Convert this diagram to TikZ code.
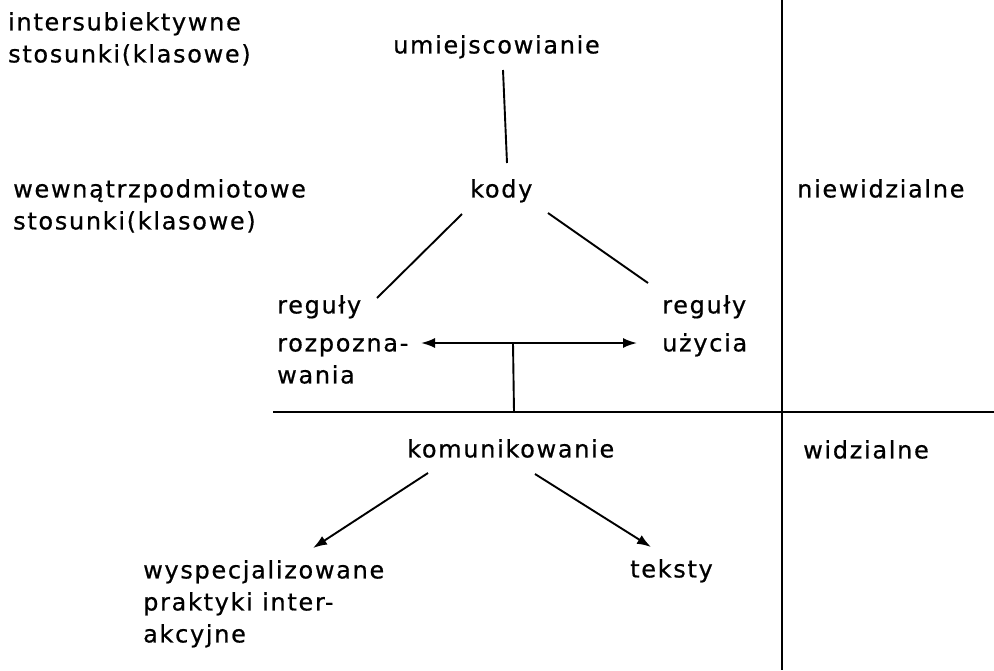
\documentclass[tikz,border=0pt]{standalone}
\usepackage{fontspec}
\setmainfont[LetterSpace=7,FakeBold=0.6]{DejaVu Sans}
\usetikzlibrary{arrows.meta}
\begin{document}
\begin{tikzpicture}[x=1pt,y=-1pt,
  lbl/.style={anchor=north west, inner sep=0pt, align=left,
              font=\fontsize{24}{32}\selectfont},
  rule/.style={line width=2pt},
  conn/.style={line width=1.9pt},
  tip/.tip={Latex[length=14pt,width=10pt]},
  arr/.style={conn, -tip},
  darr/.style={conn, tip-tip}]
\useasboundingbox (0,0) rectangle (994,670);

% labels
\node[lbl] (inter)  at (8,12)    {intersubiektywne\\stosunki(klasowe)};
\node[lbl] (wewn)   at (13,179)  {wewnątrzpodmiotowe\\stosunki(klasowe)};
\node[lbl] (umiej)  at (393,35)  {umiejscowianie};
\node[lbl] (kody)   at (470,179) {kody};
\node[lbl] (niew)   at (797,179) {niewidzialne};
\node[lbl] (regL)   at (277,295) {reguły\\[6pt]rozpozna-\\wania};
\node[lbl] (regR)   at (662,295) {reguły\\[6pt]użycia};
\node[lbl] (komun)  at (407,439) {komunikowanie};
\node[lbl] (widz)   at (803,440) {widzialne};
\node[lbl] (wysp)   at (143,560) {wyspecjalizowane\\praktyki inter-\\akcyjne};
\node[lbl] (teksty) at (630,559) {teksty};

% dividing rules
\coordinate (vTop) at (782,0);
\coordinate (vBot) at (782,670);
\coordinate (hL)   at (273,412);
\coordinate (hR)   at (994,412);
\draw[rule] (vTop) -- (vBot);
\draw[rule] (hL) -- (hR);

% connector end points
\coordinate (umB)   at (503,70);
\coordinate (kdT)   at (507,163);
\coordinate (kdL)   at (462,214);
\coordinate (rgL)   at (377,298);
\coordinate (kdR)   at (548,213);
\coordinate (rgR)   at (648,283);
\coordinate (aL)    at (421,343);
\coordinate (aR)    at (637,343);
\coordinate (stemT) at (513,343);
\coordinate (stemB) at (514,412);
\coordinate (kmL)   at (428,473);
\coordinate (wyT)   at (313,548);
\coordinate (kmR)   at (535,474);
\coordinate (tkT)   at (651,547);

% connectors
\draw[conn] (umB) -- (kdT);
\draw[conn] (kdL) -- (rgL);
\draw[conn] (kdR) -- (rgR);
\draw[darr] (aL) -- (aR);
\draw[conn] (stemT) -- (stemB);
\draw[arr]  (kmL) -- (wyT);
\draw[arr]  (kmR) -- (tkT);
\end{tikzpicture}
\end{document}
